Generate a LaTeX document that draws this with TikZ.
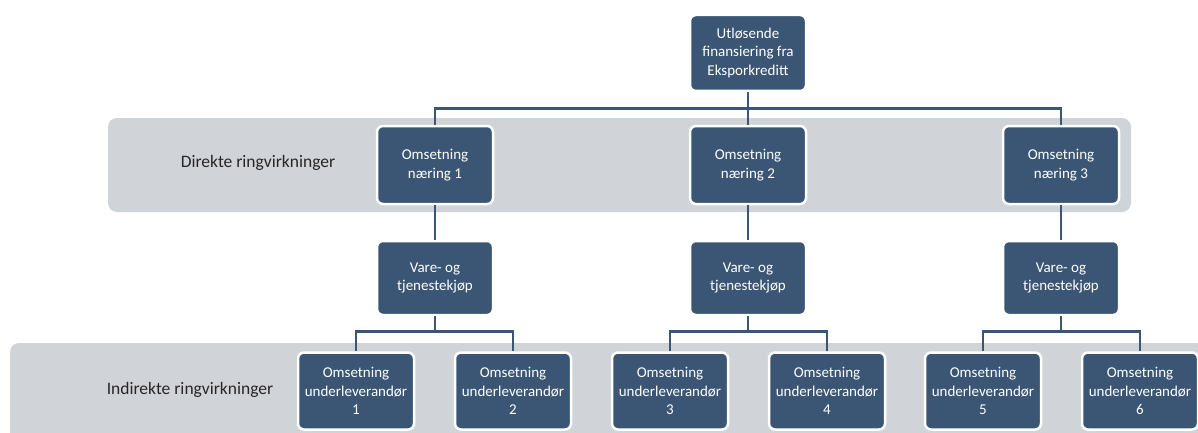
\documentclass[tikz,border=0pt]{standalone}
\usepackage{fontspec}
\setmainfont{Carlito}
\definecolor{boxblue}{HTML}{3A5674}
\definecolor{bandgray}{HTML}{D0D3D8}
\tikzset{
  box/.style={draw=white, line width=2.5pt, fill=boxblue, rounded corners=6pt,
    text=white, align=center, font=\fontsize{15}{18.5}\selectfont,
    minimum width=116pt, inner sep=2pt},
  link/.style={draw=boxblue, line width=2.8pt},
  band/.style={fill=bandgray, rounded corners=9pt},
  bandlabel/.style={font=\fontsize{17.5}{20}\selectfont, text=black!85}
}
\begin{document}
\begin{tikzpicture}[x=1pt,y=1pt]
  \useasboundingbox (0,0) rectangle (1198,432);
  \clip (0,0) rectangle (1198,432);
  % grey bands
  \fill[band] (108,220) rectangle (1131,314);
  \fill[band] (10,-20) rectangle (1230,89);
  \node[bandlabel] (direkte) at (258,269) {Direkte ringvirkninger};
  \node[bandlabel] (indirekte) at (190,42) {Indirekte ringvirkninger};
  % boxes
  \node[box, minimum height=76pt] (top) at (748,379) {Utløsende\\finansiering fra\\Eksporkreditt};
  \node[box, minimum height=78pt] (naering1) at (435,267) {Omsetning\\næring 1};
  \node[box, minimum height=78pt] (naering2) at (748,267) {Omsetning\\næring 2};
  \node[box, minimum height=78pt] (naering3) at (1061,267) {Omsetning\\næring 3};
  \node[box, minimum height=74pt] (kjop1) at (435,154) {Vare- og\\tjenestekjøp};
  \node[box, minimum height=74pt] (kjop2) at (748,154) {Vare- og\\tjenestekjøp};
  \node[box, minimum height=74pt] (kjop3) at (1061,154) {Vare- og\\tjenestekjøp};
  \node[box, minimum height=77pt] (lev1) at (356,41) {Omsetning\\underleverandør\\1};
  \node[box, minimum height=77pt] (lev2) at (513,41) {Omsetning\\underleverandør\\2};
  \node[box, minimum height=77pt] (lev3) at (670,41) {Omsetning\\underleverandør\\3};
  \node[box, minimum height=77pt] (lev4) at (827,41) {Omsetning\\underleverandør\\4};
  \node[box, minimum height=77pt] (lev5) at (983,41) {Omsetning\\underleverandør\\5};
  \node[box, minimum height=77pt] (lev6) at (1140,41) {Omsetning\\underleverandør\\6};
  % connectors
  \draw[link] (top.south) -- ++(0,-16) -| (naering1.north);
  \draw[link] (top.south) -- ++(0,-16) -| (naering3.north);
  \draw[link] (top.south) -- (naering2.north);
  \foreach \i in {1,2,3}
    \draw[link] (naering\i.south) -- (kjop\i.north);
  \draw[link] (kjop1.south) -- ++(0,-15) -| (lev1.north);
  \draw[link] (kjop1.south) -- ++(0,-15) -| (lev2.north);
  \draw[link] (kjop2.south) -- ++(0,-15) -| (lev3.north);
  \draw[link] (kjop2.south) -- ++(0,-15) -| (lev4.north);
  \draw[link] (kjop3.south) -- ++(0,-15) -| (lev5.north);
  \draw[link] (kjop3.south) -- ++(0,-15) -| (lev6.north);
\end{tikzpicture}
\end{document}
